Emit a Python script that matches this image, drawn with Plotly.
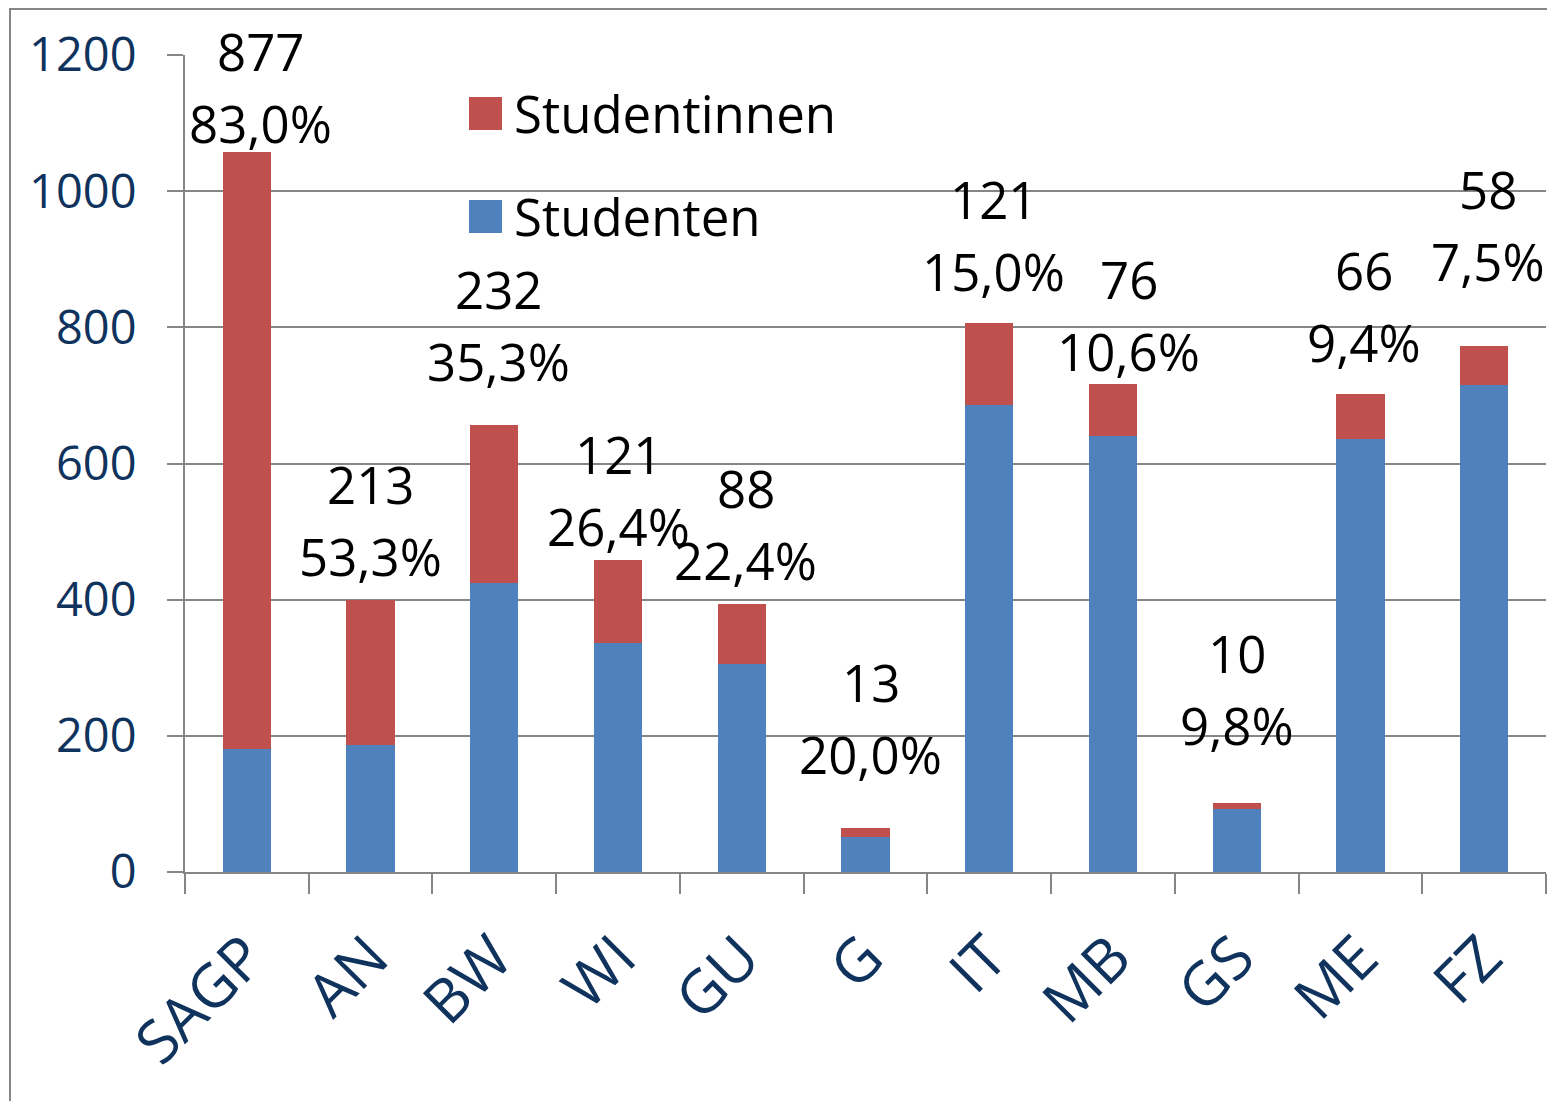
import plotly.graph_objects as go

# Data
categories = ["SAGP", "AN", "BW", "WI", "GU", "G", "IT", "MB", "GS", "ME", "FZ"]
studenten = [180, 187, 425, 337, 305, 52, 686, 641, 92, 636, 715]
studentinnen = [877, 213, 232, 121, 88, 13, 121, 76, 10, 66, 58]
anteil = ["83,0%", "53,3%", "35,3%", "26,4%", "22,4%", "20,0%",
          "15,0%", "10,6%", "9,8%", "9,4%", "7,5%"]

# label placement: pixels above bar top / horizontal nudge
label_dy = [29, 44, 64, 34, 44, 74, 52, 33, 78, 52, 85]
label_dx = [14, 0, 4, 0, 4, 5, 4, 16, 0, 4, 4]

BLUE = "#4F81BD"
RED = "#C0504D"
GREY = "#868686"
NAVY = "#10335E"
FONT = "Open Sans"

# page body adds an 8px margin, so the figure is a bit smaller
OFF = 8
W, H = 1555 - OFF, 1101 - OFF
L, T = 185 - OFF, 55 - OFF
R = W - (1546 - OFF)
B = H - (872 - OFF)
pw, ph = W - L - R, H - T - B


def px(x):
    return (x - OFF - L) / pw


def py(y):
    return (H - B - (y - OFF)) / ph


fig = go.Figure()
fig.add_trace(go.Bar(x=categories, y=studenten, name="Studenten",
                     marker=dict(color=BLUE, line=dict(width=0))))
fig.add_trace(go.Bar(x=categories, y=studentinnen, name="Studentinnen",
                     marker=dict(color=RED, line=dict(width=0))))

totals = [m + f for m, f in zip(studenten, studentinnen)]
for c, t, f, p, dy, dx in zip(categories, totals, studentinnen, anteil, label_dy, label_dx):
    fig.add_annotation(x=c, y=t, text=p, showarrow=False, yanchor="middle",
                       yshift=dy, xshift=dx, font=dict(size=51, color="black", family=FONT))
    fig.add_annotation(x=c, y=t, text=str(f), showarrow=False, yanchor="middle",
                       yshift=dy + 72, xshift=dx, font=dict(size=51, color="black", family=FONT))

# legend drawn by hand (big squares like the original)
for y0, col, name in [(97, RED, "Studentinnen"), (200, BLUE, "Studenten")]:
    fig.add_shape(type="rect", xref="paper", yref="paper",
                  x0=px(469), x1=px(502), y0=py(y0 + 33), y1=py(y0),
                  fillcolor=col, line=dict(width=0))
    fig.add_annotation(xref="paper", yref="paper", x=px(512), y=py(y0 + 16),
                       xanchor="left", yanchor="middle", text=name, showarrow=False,
                       font=dict(size=51, color="black", family=FONT))

# chart area border
fig.add_shape(type="rect", xref="paper", yref="paper",
              x0=px(10), x1=px(1580), y0=py(1130), y1=py(9),
              line=dict(color=GREY, width=2), fillcolor="rgba(0,0,0,0)", layer="below")

fig.update_layout(
    barmode="stack",
    bargap=0.61,
    width=W, height=H,
    margin=dict(l=L, r=R, t=T, b=B),
    plot_bgcolor="white",
    paper_bgcolor="white",
    showlegend=False,
    font=dict(family=FONT),
    xaxis=dict(
        range=[-0.5, len(categories) - 0.5],
        showline=True, linecolor=GREY, linewidth=2,
        ticks="outside", tickson="boundaries", ticklen=20, tickcolor=GREY, tickwidth=2,
        tickangle=-45, ticklabelstandoff=24,
        tickfont=dict(size=60, color=NAVY, family=FONT),
        showgrid=False,
    ),
    yaxis=dict(
        range=[0, 1200], dtick=200,
        showline=True, linecolor=GREY, linewidth=2,
        ticks="outside", ticklen=16, tickcolor=GREY, tickwidth=2,
        ticklabelstandoff=21,
        tickfont=dict(size=47, color=NAVY, family=FONT),
        showgrid=True, gridcolor=GREY, gridwidth=2,
        zeroline=False,
    ),
)

fig.write_html("out.html")
